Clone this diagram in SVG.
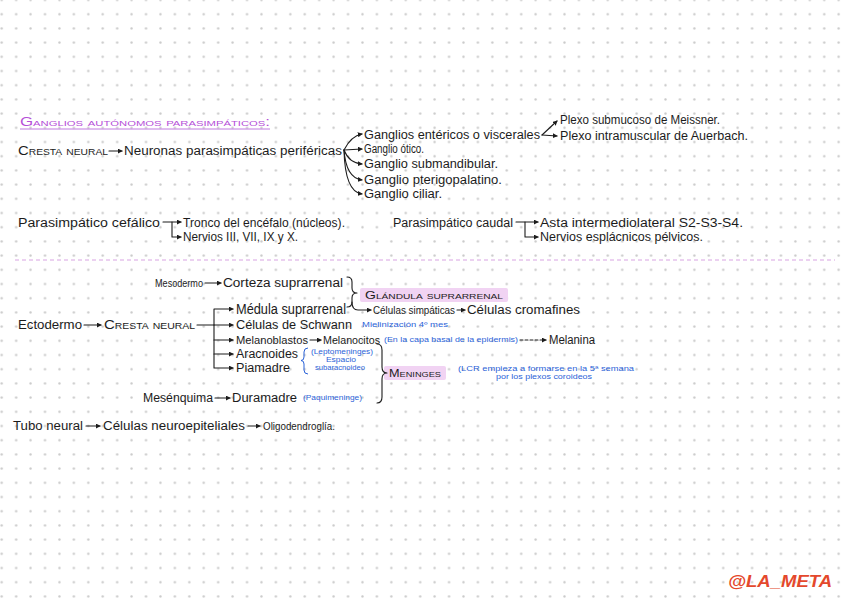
<svg xmlns="http://www.w3.org/2000/svg" width="848" height="601" viewBox="0 0 848 601">
<defs>
<pattern id="dots" x="-5.5" y="-7.1" width="14.43" height="14.2" patternUnits="userSpaceOnUse">
<circle cx="7.215" cy="7.1" r="1.2" fill="#c9c9c9"/>
</pattern>
<marker id="ah" viewBox="0 0 6 6" refX="5" refY="3" markerWidth="5" markerHeight="5" markerUnits="userSpaceOnUse" orient="auto">
<path d="M0,0 L6,3 L0,6 z" fill="#1c1c1c"/>
</marker>
<style>
.t{font-family:"Liberation Sans",Arial,sans-serif;font-size:12px;fill:#1c1c1c}
.sc{font-variant:small-caps;font-size:13px}
.b{font-family:"Liberation Sans",Arial,sans-serif;font-size:6.5px;fill:#2a62d8}
.c{fill:none;stroke:#1c1c1c;stroke-width:1.1;stroke-linecap:round;stroke-linejoin:round}
.a{marker-end:url(#ah)}
.hl{fill:#f1d3f3}
</style>
</defs>
<rect width="848" height="601" fill="#ffffff"/>
<rect width="848" height="601" fill="url(#dots)"/>

<g id="title">
<text class="t sc" x="20" y="126" style="fill:#b54fd8;font-size:12px" textLength="250" lengthAdjust="spacingAndGlyphs">Ganglios autónomos parasimpáticos:</text>
<line x1="20" y1="129" x2="270" y2="129" stroke="#c07ae0" stroke-width="1"/>
</g>

<g id="cresta1"><text class="t sc" x="18" y="155" textLength="90" lengthAdjust="spacingAndGlyphs">Cresta neural</text></g>
<g id="neuronas"><text class="t" x="124" y="155" textLength="218" lengthAdjust="spacingAndGlyphs">Neuronas parasimpáticas periféricas</text></g>
<g id="g-entericos"><text class="t" x="364" y="139" textLength="176" lengthAdjust="spacingAndGlyphs">Ganglios entéricos o viscerales</text></g>
<g id="g-otico"><text class="t" x="364" y="153" textLength="60" lengthAdjust="spacingAndGlyphs">Ganglio ótico.</text></g>
<g id="g-submand"><text class="t" x="364" y="168" textLength="134" lengthAdjust="spacingAndGlyphs">Ganglio submandibular.</text></g>
<g id="g-pterigo"><text class="t" x="364" y="184" textLength="138" lengthAdjust="spacingAndGlyphs">Ganglio pterigopalatino.</text></g>
<g id="g-ciliar"><text class="t" x="364" y="198" textLength="78" lengthAdjust="spacingAndGlyphs">Ganglio ciliar.</text></g>
<g id="meissner"><text class="t" x="560" y="124" textLength="160" lengthAdjust="spacingAndGlyphs">Plexo submucoso de Meissner.</text></g>
<g id="auerbach"><text class="t" x="560" y="140" textLength="188" lengthAdjust="spacingAndGlyphs">Plexo intramuscular de Auerbach.</text></g>

<g id="cefalico"><text class="t" x="18" y="227" textLength="142" lengthAdjust="spacingAndGlyphs">Parasimpático cefálico</text></g>
<g id="tronco"><text class="t" x="183" y="227" textLength="162" lengthAdjust="spacingAndGlyphs">Tronco del encéfalo (núcleos).</text></g>
<g id="nervios"><text class="t" x="183" y="241" textLength="115" lengthAdjust="spacingAndGlyphs">Nervios III, VII, IX y X.</text></g>
<g id="caudal"><text class="t" x="393" y="227" textLength="120" lengthAdjust="spacingAndGlyphs">Parasimpático caudal</text></g>
<g id="asta"><text class="t" x="540" y="227" textLength="203" lengthAdjust="spacingAndGlyphs">Asta intermediolateral S2-S3-S4.</text></g>
<g id="esplacnicos"><text class="t" x="540" y="241" textLength="163" lengthAdjust="spacingAndGlyphs">Nervios esplácnicos pélvicos.</text></g>

<line x1="15" y1="260" x2="835" y2="260" stroke="#d8a3e2" stroke-width="1" stroke-dasharray="4 3"/>

<g id="mesodermo"><text class="t" x="155" y="287" style="font-size:11px" textLength="48" lengthAdjust="spacingAndGlyphs">Mesodermo</text></g>
<g id="corteza"><text class="t" x="223" y="287" textLength="120" lengthAdjust="spacingAndGlyphs">Corteza suprarrenal</text></g>
<g id="glandula">
<rect class="hl" x="360" y="288" width="148" height="14" rx="2"/>
<text class="t sc" x="365" y="299" style="font-size:11px" textLength="138" lengthAdjust="spacingAndGlyphs">Glándula suprarrenal</text>
</g>
<g id="medula"><text class="t" x="236" y="314" style="font-size:14px" textLength="110" lengthAdjust="spacingAndGlyphs">Médula suprarrenal</text></g>
<g id="simpaticas"><text class="t" x="373" y="314" style="font-size:11px" textLength="82" lengthAdjust="spacingAndGlyphs">Células simpáticas</text></g>
<g id="cromafines"><text class="t" x="467" y="314" textLength="113" lengthAdjust="spacingAndGlyphs">Células cromafines</text></g>

<g id="ectodermo"><text class="t" x="18" y="329" textLength="64" lengthAdjust="spacingAndGlyphs">Ectodermo</text></g>
<g id="cresta2"><text class="t sc" x="104" y="329" textLength="91" lengthAdjust="spacingAndGlyphs">Cresta neural</text></g>
<g id="schwann">
<text class="t" x="236" y="329" textLength="116" lengthAdjust="spacingAndGlyphs">Células de Schwann</text>
<text class="b" x="362" y="327" textLength="86" lengthAdjust="spacingAndGlyphs">Mielinización 4º mes</text>
</g>
<g id="melanoblastos"><text class="t" x="236" y="344" style="font-size:11.5px" textLength="72" lengthAdjust="spacingAndGlyphs">Melanoblastos</text></g>
<g id="melanocitos">
<text class="t" x="323" y="344" style="font-size:11px" textLength="57" lengthAdjust="spacingAndGlyphs">Melanocitos</text>
<text class="b" x="384" y="342" textLength="134" lengthAdjust="spacingAndGlyphs">(En la capa basal de la epidermis)</text>
</g>
<g id="melanina"><text class="t" x="549" y="344" textLength="46" lengthAdjust="spacingAndGlyphs">Melanina</text></g>
<g id="aracnoides"><text class="t" x="236" y="358" textLength="62" lengthAdjust="spacingAndGlyphs">Aracnoides</text></g>
<g id="piamadre"><text class="t" x="236" y="372" textLength="54" lengthAdjust="spacingAndGlyphs">Piamadre</text></g>
<g id="lepto">
<path d="M308,348 Q304,348 304,352 L304,357 Q304,360.5 301,360.5 Q304,360.5 304,364 L304,370 Q304,374 308,374" fill="none" stroke="#2a62d8" stroke-width="1"/>
<text class="b" x="311" y="354" textLength="62" lengthAdjust="spacingAndGlyphs">(Leptomeninges)</text>
<text class="b" x="341" y="362" text-anchor="middle" textLength="30" lengthAdjust="spacingAndGlyphs">Espacio</text>
<text class="b" x="340" y="370" text-anchor="middle" textLength="50" lengthAdjust="spacingAndGlyphs">subaracnoideo</text>
</g>
<g id="meninges">
<rect class="hl" x="384" y="366" width="62" height="14" rx="2"/>
<text class="t sc" x="389" y="377" style="font-size:11px" textLength="52" lengthAdjust="spacingAndGlyphs">Meninges</text>
<text class="b" x="458" y="371" textLength="176" lengthAdjust="spacingAndGlyphs">(LCR empieza a formarse en la 5ª semana</text>
<text class="b" x="544" y="379" text-anchor="middle" textLength="96" lengthAdjust="spacingAndGlyphs">por los plexos coroideos</text>
</g>
<g id="mesenquima"><text class="t" x="143" y="402" textLength="70" lengthAdjust="spacingAndGlyphs">Mesénquima</text></g>
<g id="duramadre">
<text class="t" x="232" y="402" textLength="65" lengthAdjust="spacingAndGlyphs">Duramadre</text>
<text class="b" x="303" y="400" textLength="59" lengthAdjust="spacingAndGlyphs">(Paquimeninge)</text>
</g>

<g id="tubo"><text class="t" x="13" y="430" textLength="70" lengthAdjust="spacingAndGlyphs">Tubo neural</text></g>
<g id="neuroepiteliales"><text class="t" x="103" y="430" textLength="142" lengthAdjust="spacingAndGlyphs">Células neuroepiteliales</text></g>
<g id="oligo"><text class="t" x="263" y="430" style="font-size:11px" textLength="72" lengthAdjust="spacingAndGlyphs">Oligodendroglía.</text></g>

<g id="firma"><text x="728" y="587" font-family="Liberation Sans, Arial, sans-serif" font-size="17" font-weight="bold" font-style="italic" fill="#e4482c" textLength="104" lengthAdjust="spacingAndGlyphs">@LA_META</text></g>

<g id="connectors">
<path class="c a" d="M109,151 H122"/>
<path class="c a" d="M344,150 Q351,136 362,134"/>
<path class="c a" d="M344,150 L362,149"/>
<path class="c a" d="M344,150 Q349,163 362,164"/>
<path class="c a" d="M344,150 Q346,178 362,180"/>
<path class="c a" d="M344,150 Q345,192 362,194"/>
<path class="c a" d="M542,135 L557,121"/>
<path class="c a" d="M542,135 L557,136"/>
<path class="c a" d="M163,222 H181"/>
<path class="c a" d="M172,222 V237 H181"/>
<path class="c a" d="M516,222 H538"/>
<path class="c a" d="M525,222 V237 H538"/>
<path class="c a" d="M205,283 H221"/>
<path class="c" d="M347,277 Q352,277 352,282 L352,288 Q352,293 357,293 Q352,293 352,298 L352,302 Q352,307 347,307"/>
<path class="c a" d="M352,302 Q352,310 358,310 H371"/>
<path class="c a" d="M457,310 H465"/>
<path class="c a" d="M84,325 H101"/>
<path class="c a" d="M197,325 H233"/>
<path class="c a" d="M214,325 V309 H233"/>
<path class="c a" d="M214,325 V368 H233"/>
<path class="c a" d="M214,340 H233"/>
<path class="c a" d="M214,354 H233"/>
<path class="c a" d="M310,340 H321"/>
<path class="c a" d="M520,340 H546" stroke-dasharray="3 2"/>
<path class="c" d="M377,344 Q382,344 382,350 L382,367 Q382,373 387,373 Q382,373 382,379 L382,397 Q382,403 377,403"/>
<path class="c a" d="M215,398 H230"/>
<path class="c a" d="M86,426 H100"/>
<path class="c a" d="M248,426 H260"/>
</g>
</svg>
